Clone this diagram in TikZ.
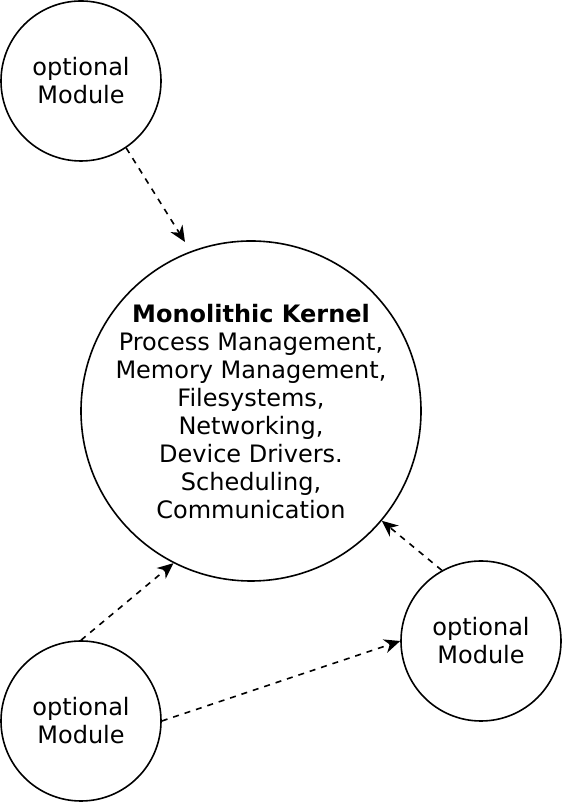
\documentclass[tikz,border=0pt]{standalone}
\usepackage{fontspec}
\setmainfont{DejaVu Sans}
\usetikzlibrary{arrows.meta}
\begin{document}
\begin{tikzpicture}[x=1pt,y=1pt,
  txt/.style={align=center, inner sep=0pt, font=\fontsize{24}{28}\selectfont},
  mod/.style={txt, draw, circle, line width=1.6pt, minimum size=160pt},
  kern/.style={draw, circle, line width=1.6pt, inner sep=0pt, minimum size=340pt},
  link/.style={line width=1.6pt, dash pattern=on 6pt off 6pt,
    -{Stealth[length=16pt, width=14pt, inset=5pt]}}]
\useasboundingbox (0,0) rectangle (562,802);
\node[kern] (kernel) at (251,391) {};
\node[txt] (ktext) at ([yshift=-1pt]kernel.center) {\textbf{Monolithic Kernel}\\Process Management,\\Memory Management,\\Filesystems,\\Networking,\\Device Drivers.\\Scheduling,\\Communication};
\node[mod] (tl) at (81,721) {optional\\Module};
\node[mod] (rt) at (481,161) {optional\\Module};
\node[mod] (bl) at (81,81) {optional\\Module};
\coordinate (tip1) at (185,560);
\draw[link] (tl.-56.7) -- (tip1);
\draw[link] (rt.119.7) -- (kernel.-40.5);
\draw[link] (bl.north) -- (kernel.-117);
\draw[link] (bl.east) -- (rt.west);
\end{tikzpicture}
\end{document}
